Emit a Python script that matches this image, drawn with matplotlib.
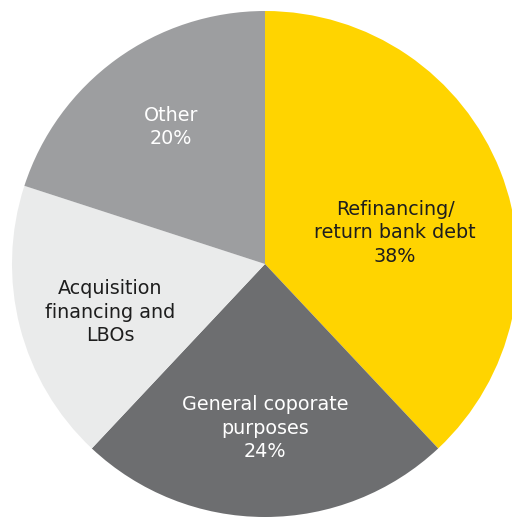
import matplotlib
matplotlib.use("Agg")
import matplotlib.pyplot as plt

# purpose of issuance, share of total
labels = ["Refinancing/\nreturn bank debt\n38%",
          "General coporate\npurposes\n24%",
          "Acquisition\nfinancing and\nLBOs",
          "Other\n20%"]
shares = [38, 24, 18, 20]
colors = ["#FFD400", "#6D6E70", "#EAEBEB", "#9D9EA0"]
text_colors = ["#1E1E1E", "white", "#1E1E1E", "white"]
label_pos = [(395, 233), (265, 428), (110, 312), (171, 127)]

W, H = 512, 518
fig = plt.figure(figsize=(W / 100, H / 100), dpi=100)
ax = fig.add_axes([0, 0, 1, 1])

ax.pie(shares, colors=colors, startangle=90, counterclock=False,
       center=(265, H - 264), radius=253,
       wedgeprops=dict(linewidth=0, antialiased=True))

for lab, (x, y), c in zip(labels, label_pos, text_colors):
    ax.text(x, H - y, lab, ha="center", va="center", color=c,
            fontsize=13.8, family="DejaVu Sans", linespacing=1.3)

ax.set_xlim(0, W)
ax.set_ylim(0, H)
ax.set_aspect("equal")
ax.axis("off")

fig.savefig("out.png", dpi=100)
